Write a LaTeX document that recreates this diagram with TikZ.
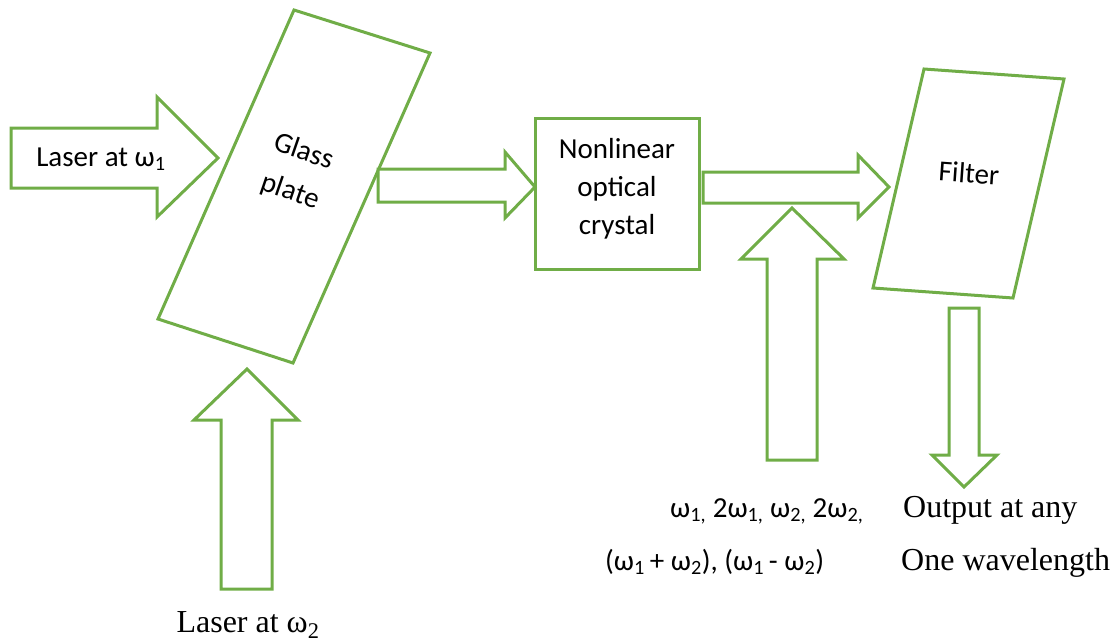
\documentclass[tikz,border=0pt]{standalone}
\usepackage{fontspec}
\setmainfont{Liberation Serif}
\newfontfamily\calibri{Carlito}
\usetikzlibrary{calc}
\definecolor{officegreen}{RGB}{112,173,71}
\newcommand\sub[1]{\textsubscript{#1}}

\begin{document}
\begin{tikzpicture}[x=1pt,y=-1pt,
  beam/.style={draw=officegreen, line width=3pt, fill=white},
  sanstext/.style={font=\calibri\fontsize{29}{38}\selectfont, align=center, inner sep=0pt},
  romantext/.style={font=\fontsize{32}{38}\selectfont, inner sep=0pt, anchor=base west}]
\useasboundingbox (0,0) rectangle (1119,640);

% glass plate
\coordinate (GA) at (294,10);
\coordinate (GB) at (430,53);
\coordinate (GC) at (293,363);
\coordinate (GD) at (158,319);
% filter
\coordinate (FA) at (924,69);
\coordinate (FB) at (1064,79);
\coordinate (FC) at (1013,298);
\coordinate (FD) at (873,288);

   \draw[beam] (GA) -- (GB) -- (GC) -- (GD) -- cycle;
   \draw[beam] (FA) -- (FB) -- (FC) -- (FD) -- cycle;
   \draw[beam] (535,118) rectangle (699,269);

   % laser at w1
   \draw[beam] (11,128) -- (157,128) -- (157,97) -- (218,158) -- (157,217) -- (157,188) -- (11,188) -- cycle;
   % plate to crystal
   \draw[beam] (378,169) -- (505,169) -- (505,152) -- (535,187) -- (505,218) -- (505,202) -- (378,202) -- cycle;
   % crystal to filter
   \draw[beam] (703,172) -- (858,172) -- (858,155) -- (889,187) -- (858,218) -- (858,203) -- (703,203) -- cycle;
   % mixed frequencies
   \draw[beam] (767,460) -- (767,259) -- (741,259) -- (792,208) -- (844,259) -- (817,259) -- (817,460) -- cycle;
   % output
   \draw[beam] (949,308) -- (979,308) -- (979,455) -- (997,455) -- (964,487) -- (932,455) -- (949,455) -- cycle;
   % laser at w2
   \draw[beam] (221,589) -- (221,420) -- (194,420) -- (247,369) -- (298,420) -- (272,420) -- (272,589) -- cycle;

   \node[sanstext, anchor=base] (laserone) at (101,166) {Laser at ω\sub{1}};
   \node[sanstext, rotate=-19, font=\calibri\fontsize{29}{42}\selectfont] (glass) at (297,172) {Glass\\plate};
   \node[sanstext] (crystal) at (617,189) {Nonlinear\\optical\\crystal};
   \node[sanstext, rotate=-4] (filter) at (969,173) {Filter};
   \node[romantext, anchor=base] (lasertwo) at (248,632) {Laser at ω\sub{2}};
   \node[sanstext, anchor=base west] (mixone) at (670,517) {ω\sub{1,} 2ω\sub{1,} ω\sub{2,} 2ω\sub{2,}};
   \node[sanstext, anchor=base west] (mixtwo) at (605,570) {(ω\sub{1}\,+ ω\sub{2}), (ω\sub{1}\,- ω\sub{2})};
   \node[romantext] (outone) at (903,517) {Output at any};
   \node[romantext] (outtwo) at (901,570) {One wavelength};
\end{tikzpicture}
\end{document}
